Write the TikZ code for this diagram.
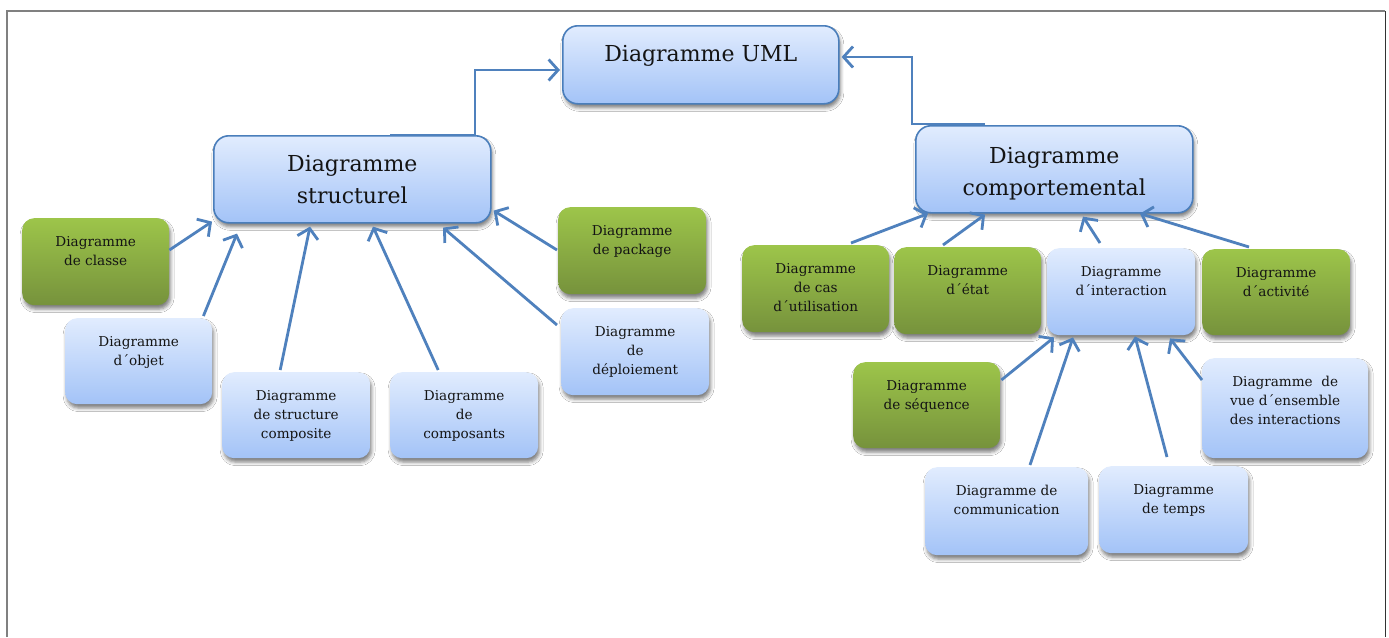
\documentclass[tikz,border=0pt]{standalone}
\usepackage{fontspec}
\setmainfont{DejaVu Serif}
\usetikzlibrary{arrows.meta,shadows.blur,calc}

\definecolor{blueTop}{HTML}{E1ECFE}
\definecolor{blueBot}{HTML}{A3C3F7}
\definecolor{greenTop}{HTML}{9DC54A}
\definecolor{greenBot}{HTML}{76923C}
\definecolor{edgeBlue}{HTML}{4A7EBB}
\definecolor{arrowBlue}{HTML}{4F81BD}
\definecolor{inkText}{HTML}{141414}
\definecolor{frameGray}{HTML}{808080}

\tikzset{
  boxbase/.style={inner sep=0pt, rounded corners=12pt, anchor=north west,
    blur shadow={shadow xshift=1.5pt, shadow yshift=-4pt,
                 shadow blur radius=3.5pt, shadow opacity=50}},
  bluebox/.style={boxbase, top color=blueTop, bottom color=blueBot},
  greenbox/.style={boxbase, top color=greenTop, bottom color=greenBot},
  bigbox/.style={bluebox, draw=edgeBlue, line width=1.6pt, rounded corners=15pt,
    minimum width=277pt, minimum height=87pt},
  smalltxt/.style={font=\fontsize{13.6}{19}\selectfont, text=inkText,
    align=center, inner sep=0pt, anchor=north, yshift=-18pt},
  bigtxt/.style={font=\fontsize{22}{32}\selectfont, text=inkText,
    align=center, inner sep=0pt, anchor=north, yshift=-20pt},
  conn/.style={draw=arrowBlue, line width=2.8pt,
    -{Straight Barb[length=9.5pt,width=21pt,line width=2.8pt]}},
}

\begin{document}
\begin{tikzpicture}[x=1pt,y=-1pt]
\useasboundingbox (0,0) rectangle (1389,637);
\fill[white] (0,0) rectangle (1389,637);

% page frame
\draw[frameGray, line width=2pt] (7,637) -- (7,11) -- (1385,11);
\draw[black!80, line width=1pt] (1385,11) -- (1385,637);

% top level
\node[bigbox, minimum width=276pt, minimum height=78pt,
  label={[bigtxt]north:Diagramme UML}] (uml) at (562,25) {};

% structural branch
\node[bigbox, label={[bigtxt]north:Diagramme\\structurel}] (str) at (213,135) {};
\node[greenbox, minimum width=147pt, minimum height=87pt,
  label={[smalltxt]north:Diagramme\\de classe}] (cls) at (22,218) {};
\node[bluebox, minimum width=147pt, minimum height=86pt,
  label={[smalltxt]north:Diagramme\\d\textasciiacute objet}] (obj) at (65,318) {};
\node[bluebox, minimum width=148pt, minimum height=86pt,
  label={[smalltxt]north:Diagramme\\de structure\\composite}] (csc) at (222,372) {};
\node[bluebox, minimum width=148pt, minimum height=86pt,
  label={[smalltxt]north:Diagramme\\de\\composants}] (cpt) at (390,372) {};
\node[greenbox, minimum width=148pt, minimum height=87pt,
  label={[smalltxt]north:Diagramme\\de package}] (pkg) at (558,207) {};
\node[bluebox, minimum width=148pt, minimum height=87pt,
  label={[smalltxt]north:Diagramme\\de\\déploiement}] (dep) at (561,308) {};

% behavioural branch
\node[bigbox, label={[bigtxt, yshift=-2pt]north:Diagramme\\comportemental}] (beh) at (915,125) {};
\node[greenbox, minimum width=147pt, minimum height=87pt,
  label={[smalltxt]north:Diagramme\\de cas\\d\textasciiacute utilisation}] (cas) at (742,245) {};
\node[greenbox, minimum width=147pt, minimum height=87pt,
  label={[smalltxt]north:Diagramme\\d\textasciiacute état}] (eta) at (894,247) {};
\node[bluebox, minimum width=148pt, minimum height=87pt,
  label={[smalltxt]north:Diagramme\\d\textasciiacute interaction}] (int) at (1047,248) {};
\node[greenbox, minimum width=148pt, minimum height=86pt,
  label={[smalltxt]north:Diagramme\\d\textasciiacute activité}] (act) at (1202,249) {};
\node[greenbox, minimum width=147pt, minimum height=86pt,
  label={[smalltxt]north:Diagramme\\de séquence}] (seq) at (853,362) {};
\node[bluebox, minimum width=166pt, minimum height=100pt,
  label={[smalltxt]north:Diagramme\ \ de\\vue d\textasciiacute ensemble\\des interactions}] (vue) at (1202,358) {};
\node[bluebox, minimum width=163pt, minimum height=88pt,
  label={[smalltxt]north:Diagramme de\\communication}] (com) at (925,467) {};
\node[bluebox, minimum width=149pt, minimum height=87pt,
  label={[smalltxt]north:Diagramme\\de temps}] (tmp) at (1099,466) {};

% links to the top level
\draw[conn] ($(str.north west)+(177,0)$) -- ($(str.north west)+(262,0)$)
  |- ($(uml.north west)+(-2,45)$);
\draw[conn] ($(beh.north west)+(70,-1)$) -- ($(beh.north west)+(-3,-1)$)
  |- ($(uml.north east)+(2,32)$);

% structural children
\draw[conn] ($(cls.north east)+(0,32)$) -- ($(str.south west)+(-1,-2)$);
\draw[conn] ($(obj.north east)+(-9,-2)$) -- ($(str.south west)+(24,10)$);
\draw[conn] ($(csc.north)+(-16,-2)$) -- ($(str.south west)+(97,3)$);
\draw[conn] ($(cpt.north)+(-26,-2)$) -- ($(str.south west)+(160,3)$);
\draw[conn] ($(dep.north west)+(-4,17)$) -- ($(str.south west)+(230,4)$);
\draw[conn] ($(pkg.north west)+(-1,43)$) -- ($(str.south east)+(2,-13)$);

% behavioural children
\draw[conn] ($(cas.north west)+(109,-2)$) -- ($(beh.south west)+(13,0)$);
\draw[conn] ($(eta.north west)+(49,-2)$) -- ($(beh.south west)+(70,1)$);
\draw[conn] ($(int.north west)+(53,-5)$) -- ($(beh.south west)+(168,3)$);
\draw[conn] ($(act.north west)+(47,-2)$) -- ($(beh.south west)+(225,0)$);

% interaction children
\draw[conn] ($(seq.north east)+(1,18)$) -- ($(int.south west)+(7,2)$);
\draw[conn] ($(com.north west)+(105,-2)$) -- ($(int.south west)+(26,2)$);
\draw[conn] ($(tmp.north west)+(68,-9)$) -- ($(int.south west)+(88,1)$);
\draw[conn] ($(vue.north west)+(0,22)$) -- ($(int.south west)+(123,3)$);
\end{tikzpicture}
\end{document}
